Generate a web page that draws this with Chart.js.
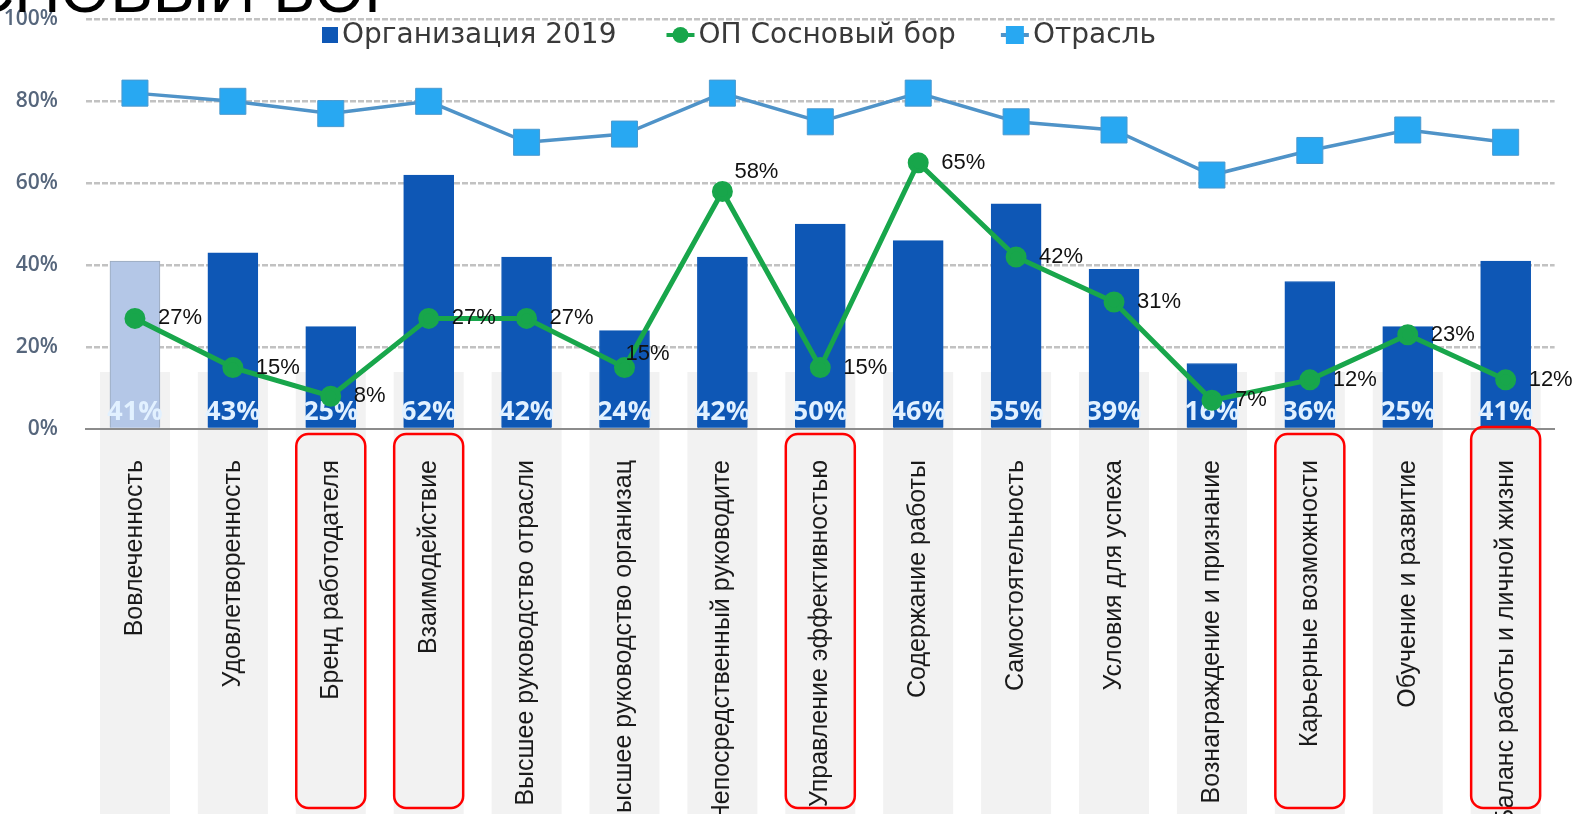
<!DOCTYPE html>
<html lang="ru">
<head>
<meta charset="utf-8">
<title>ОП Сосновый бор</title>
<script src="https://cdn.jsdelivr.net/npm/chart.js@4.4.1/dist/chart.umd.min.js"></script>
<style>
  html, body { margin: 0; padding: 0; background: #fff; overflow: hidden; }
  #wrap { position: relative; width: 1574px; height: 814px; overflow: hidden; }
  #title {
    position: absolute; right: 1167px; top: -42px; white-space: nowrap;
    font-family: "Liberation Sans", Arial, sans-serif; font-size: 64px; line-height: 64px;
    color: #000; z-index: 2;
  }
  #chart { position: absolute; left: 0; top: 0; }
</style>
</head>
<body>
<div id="wrap">
  <div id="title">ОП СОСНОВЫЙ БОР</div>
  <canvas id="chart" width="1574" height="814"></canvas>
</div>
<script>
// Категории (подписи оси X)
const categories = [
    'Вовлеченность', 'Удовлетворенность', 'Бренд работодателя', 'Взаимодействие',
    'Высшее руководство отрасли', 'Высшее руководство организац', 'Непосредственный руководите',
    'Управление эффективностью', 'Содержание работы', 'Самостоятельность', 'Условия для успеха',
    'Вознаграждение и признание', 'Карьерные возможности', 'Обучение и развитие',
    'Баланс работы и личной жизни'
];

// Значения серий, %
const orgValues = [41, 43, 25, 62, 42, 24, 42, 50, 46, 55, 39, 16, 36, 25, 41];
const sbValues = [27, 15, 8, 27, 27, 15, 58, 15, 65, 42, 31, 7, 12, 23, 12];
const industryValues = [82, 80, 77, 80, 70, 72, 82, 75, 82, 75, 73, 62, 68, 73, 70];

// Метки оси Y
const yTicks = [0, 20, 40, 60, 80, 100];

// Категории, обведённые красной рамкой
const highlighted = [2, 3, 7, 12, 14];

const darkBlue = '#0e57b5';
const lightBlue = '#b4c7e7';
const green = '#18a64b';
const industryLine = '#4f93c8';
const industryPoint = '#28a8f2';

// Серые полосы под подписями
const bandsPlugin = {
    id: 'bands',
    beforeDraw(chart) {
        const ctx = chart.ctx;
        const x = chart.scales.x;
        const top = chart.chartArea.bottom - 57;
        ctx.save();
        ctx.fillStyle = '#f2f2f2';
        categories.forEach((c, i) => {
            const cx = x.getPixelForValue(i);
            ctx.fillRect(cx - 35, top, 70, chart.height - top);
        });
        ctx.restore();
    }
};

// Подписи значений на столбцах и на зелёной линии
const labelsPlugin = {
    id: 'valueLabels',
    afterDatasetDraw(chart, args) {
        if (args.index !== 0) return;
        const ctx = chart.ctx;
        const y0 = chart.scales.y.getPixelForValue(0);
        ctx.save();
        ctx.font = 'bold 27px "Open Sans"';
        ctx.textAlign = 'center';
        ctx.textBaseline = 'middle';
        ctx.fillStyle = '#e2f1ff';
        args.meta.data.forEach((bar, i) => {
            ctx.fillText(orgValues[i] + '%', bar.x, y0 - 17);
        });
        ctx.restore();
    },
    afterDatasetsDraw(chart) {
        const ctx = chart.ctx;
        const meta = chart.getDatasetMeta(1);
        const shift = { 5: [1, -14], 6: [12, -19] };
        ctx.save();
        ctx.font = '22px "Liberation Sans"';
        ctx.textAlign = 'left';
        ctx.textBaseline = 'middle';
        ctx.fillStyle = '#111';
        meta.data.forEach((pt, i) => {
            const s = shift[i] || [23, 0];
            ctx.fillText(sbValues[i] + '%', pt.x + s[0], pt.y + s[1]);
        });
        ctx.restore();
    }
};

// Красные рамки и легенда
const overlayPlugin = {
    id: 'overlay',
    afterDraw(chart) {
        const ctx = chart.ctx;
        const x = chart.scales.x;
        const bottom = chart.chartArea.bottom;
        ctx.save();
        ctx.strokeStyle = '#ff0000';
        ctx.lineWidth = 2.5;
        highlighted.forEach(i => {
            const cx = x.getPixelForValue(i);
            const top = i === categories.length - 1 ? bottom - 2 : bottom + 5;
            ctx.beginPath();
            ctx.roundRect(cx - 34.5, top, 69, 808 - top, 12);
            ctx.stroke();
        });
        ctx.restore();

        // легенда
        ctx.save();
        ctx.font = '28px "DejaVu Sans"';
        ctx.textBaseline = 'middle';
        let lx = 322;
        const ly = 35;
        const gaps = [50, 45, 0];
        chart.data.datasets.forEach((ds, k) => {
            if (ds.type === 'bar') {
                ctx.fillStyle = darkBlue;
                ctx.fillRect(lx, ly - 8, 16, 16);
                lx += 20;
            } else {
                ctx.strokeStyle = ds.borderColor;
                ctx.lineWidth = 4;
                ctx.beginPath();
                ctx.moveTo(lx, ly);
                ctx.lineTo(lx + 28, ly);
                ctx.stroke();
                ctx.fillStyle = ds.pointBackgroundColor;
                if (ds.pointStyle === 'rect') {
                    ctx.fillRect(lx + 5, ly - 9, 18, 18);
                } else {
                    ctx.beginPath();
                    ctx.arc(lx + 14, ly, 8, 0, Math.PI * 2);
                    ctx.fill();
                }
                lx += 32;
            }
            ctx.fillStyle = '#3a3a3a';
            ctx.fillText(ds.label, lx, ly + 1);
            lx += ctx.measureText(ds.label).width + gaps[k];
        });
        ctx.restore();
    }
};

new Chart(document.getElementById('chart'), {
    data: {
        labels: categories,
        datasets: [
            {
                type: 'bar',
                label: 'Организация 2019',
                data: orgValues,
                backgroundColor: orgValues.map((v, i) => i === 0 ? lightBlue : darkBlue),
                borderColor: orgValues.map((v, i) => i === 0 ? '#9aa8bb' : darkBlue),
                borderWidth: 1,
                barThickness: 50,
                order: 3
            },
            {
                type: 'line',
                label: 'ОП Сосновый бор',
                data: sbValues,
                borderColor: green,
                backgroundColor: green,
                pointBackgroundColor: green,
                pointBorderColor: green,
                borderWidth: 5,
                pointRadius: 8,
                pointStyle: 'circle',
                tension: 0,
                order: 1
            },
            {
                type: 'line',
                label: 'Отрасль',
                data: industryValues,
                borderColor: industryLine,
                backgroundColor: industryPoint,
                pointBackgroundColor: industryPoint,
                pointBorderColor: '#4b9ad0',
                pointBorderWidth: 1,
                borderWidth: 3.5,
                pointRadius: 18.4,
                pointStyle: 'rect',
                tension: 0,
                order: 2
            }
        ]
    },
    options: {
        responsive: false,
        animation: false,
        devicePixelRatio: 1,
        layout: { padding: { top: 19, right: 6, left: 0, bottom: 0 } },
        plugins: {
            legend: { display: false },
            title: { display: false },
            tooltip: { enabled: false }
        },
        scales: {
            x: {
                offset: true,
                grid: { display: false, drawTicks: false },
                border: { display: true, color: '#8c8c8c', width: 2 },
                ticks: {
                    autoSkip: false,
                    maxRotation: 90,
                    minRotation: 90,
                    padding: 31,
                    color: '#1a1a1a',
                    font: { family: '"Liberation Sans"', size: 25 }
                },
                afterFit(scale) {
                    scale.height = 814 - 429;
                    scale.paddingLeft = 0;
                    scale.paddingRight = 0;
                }
            },
            y: {
                min: 0,
                max: 100,
                afterBuildTicks(scale) { scale.ticks = yTicks.map(v => ({ value: v })); },
                grid: {
                    drawTicks: false,
                    color: ctx => ctx.tick && ctx.tick.value === 0 ? 'rgba(0,0,0,0)' : '#c2c2c2',
                    lineWidth: 2.5
                },
                border: { display: false, dash: [6, 2] },
                ticks: {
                    padding: 28,
                    color: '#56667c',
                    font: { family: '"Open Sans"', size: 21, weight: '600' },
                    callback: v => v + '%'
                },
                afterFit(scale) {
                    scale.width = 86;
                    scale.paddingTop = 0;
                    scale.paddingBottom = 0;
                }
            }
        }
    },
    plugins: [bandsPlugin, labelsPlugin, overlayPlugin]
});
</script>
</body>
</html>
